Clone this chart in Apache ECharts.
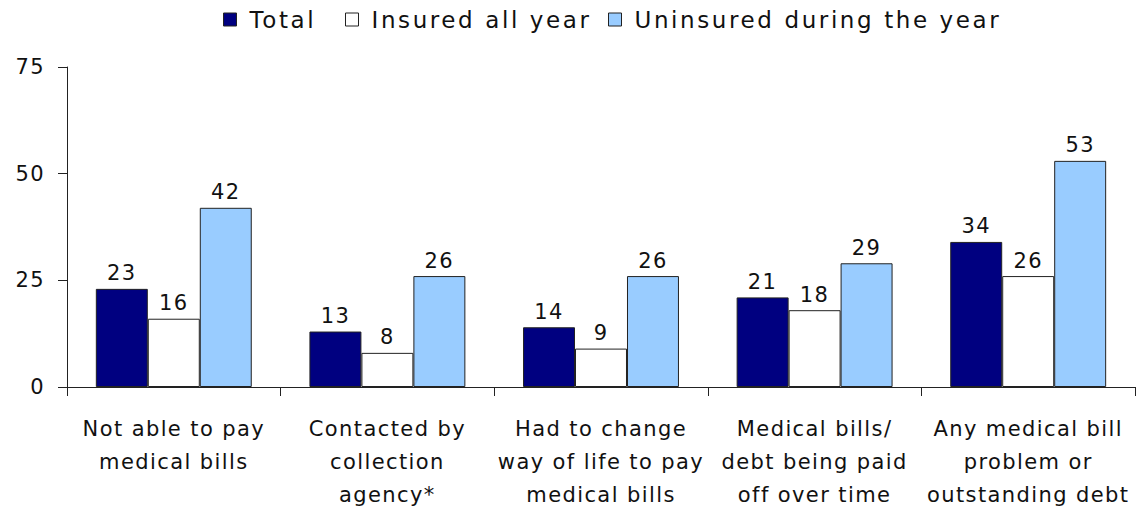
<!DOCTYPE html>
<html>
<head>
<meta charset="utf-8">
<script src="https://cdn.jsdelivr.net/npm/echarts@6/dist/echarts.min.js"></script>
<style>
  html, body { margin: 0; padding: 0; background: #fff; }
  #chart { width: 1138px; height: 512px; }
  /* wide tracking for all chart text */
  #chart text { letter-spacing: 1.4px; }
  #chart text.legend-text { letter-spacing: 2.6px; }
</style>
</head>
<body>
<div id="chart"></div>
<script>
// Medical bill problems, percent of adults
const categories = [
  'Not able to pay\nmedical bills',
  'Contacted by\ncollection\nagency*',
  'Had to change\nway of life to pay\nmedical bills',
  'Medical bills/\ndebt being paid\noff over time',
  'Any medical bill\nproblem or\noutstanding debt'
];
const seriesNames = ['Total', 'Insured all year', 'Uninsured during the year'];
const totalValues = [23, 13, 14, 21, 34];
const insuredValues = [16, 8, 9, 18, 26];
const uninsuredValues = [42, 26, 26, 29, 53];
const yTicks = { min: 0, max: 75, interval: 25 };

const FONT = 'DejaVu Sans';
const TEXT = '#111';
const FS = 21;
const LEGEND_FS = 23;
const legendLeft = [223, 345, 608];

function barSeries(name, data, color) {
  return {
    name: name,
    type: 'bar',
    data: data,
    barGap: '0%',
    barCategoryGap: '27%',
    itemStyle: { color: color, borderColor: '#222', borderWidth: 1 },
    label: {
      show: true,
      position: 'top',
      distance: 5,
      fontFamily: FONT,
      fontSize: FS,
      color: TEXT
    }
  };
}

// one legend block per series so each entry sits at its own x
const legends = seriesNames.map(function (name, i) {
  return {
    data: [name],
    top: 8,
    left: legendLeft[i],
    padding: 0,
    icon: 'rect',
    itemWidth: 13,
    itemHeight: 13,
    itemStyle: { borderColor: '#222', borderWidth: 1 },
    textStyle: { fontFamily: FONT, fontSize: LEGEND_FS, color: TEXT, padding: [0, 0, 0, 8] },
    selectedMode: false
  };
});

const chart = echarts.init(document.getElementById('chart'), null, { renderer: 'svg' });
chart.setOption({
  animation: false,
  backgroundColor: '#fff',
  legend: legends,
  grid: { left: 67, right: 3, top: 67, bottom: 125, containLabel: false },
  xAxis: {
    type: 'category',
    data: categories,
    axisLine: { lineStyle: { color: '#222', width: 1 } },
    axisTick: { show: true, length: 9, alignWithLabel: false, lineStyle: { color: '#222' } },
    axisLabel: {
      interval: 0,
      margin: 25,
      fontFamily: FONT,
      fontSize: FS,
      lineHeight: 33,
      color: TEXT
    }
  },
  yAxis: {
    type: 'value',
    min: yTicks.min,
    max: yTicks.max,
    interval: yTicks.interval,
    splitLine: { show: false },
    axisLine: { show: true, lineStyle: { color: '#222', width: 1 } },
    axisTick: { show: true, length: 9, lineStyle: { color: '#222' } },
    axisLabel: { margin: 22, fontFamily: FONT, fontSize: FS, color: TEXT }
  },
  series: [
    barSeries(seriesNames[0], totalValues, '#000080'),
    barSeries(seriesNames[1], insuredValues, '#ffffff'),
    barSeries(seriesNames[2], uninsuredValues, '#99ccff')
  ]
});

// legend entries get wider tracking than the axis text
document.querySelectorAll('#chart text').forEach(function (t) {
  if (seriesNames.indexOf(t.textContent.trim()) >= 0) {
    t.classList.add('legend-text');
  }
});
</script>
</body>
</html>
